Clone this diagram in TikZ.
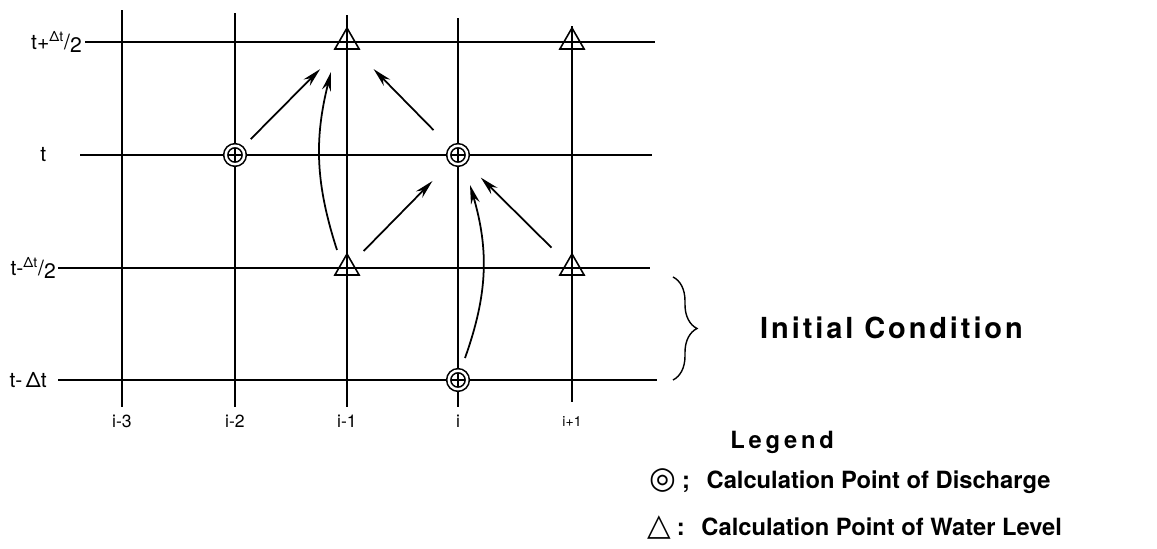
\documentclass[tikz,border=0pt]{standalone}
\usepackage{fontspec}
\setsansfont{TeX Gyre Heros}
\newfontfamily\symfont{DejaVu Sans}
\usetikzlibrary{arrows.meta,calc,shapes.geometric,decorations.pathreplacing}

\begin{document}
\begin{tikzpicture}[
    font=\sffamily,
    grid/.style={line width=0.6pt},
    qpt/.style={
        circle,
        draw,
        double,
        double distance=1.4pt,
        line width=0.9pt,
        minimum size=3.7mm,
        inner sep=0pt
    },
    hpt/.style={
        regular polygon,
        regular polygon sides=3,
        draw,
        line width=0.9pt,
        minimum size=5.6mm,
        inner sep=0pt
    },
    arr/.style={-{Stealth[length=3.8mm,width=1.8mm]}, line width=1pt},
    tlab/.style={anchor=east, font=\sffamily\fontsize{12}{14}\selectfont},
    ilab/.style={font=\sffamily\fontsize{10}{12}\selectfont},
    leg/.style={anchor=base west, inner sep=0pt, font=\sffamily\bfseries\fontsize{13.5}{16}\selectfont}
]
\useasboundingbox (0,0) rectangle (23.14,10.98);

% time levels
\draw[grid] (1.70,10.14) -- (13.10,10.14);
\draw[grid] (1.60,7.88) -- (13.04,7.88);
\draw[grid] (1.16,5.62) -- (13.00,5.62);
\draw[grid] (1.16,3.38) -- (13.14,3.38);

% space points
\foreach \x/\top in {2.44/10.78, 4.70/10.72, 6.94/10.68, 9.16/10.62}
    \draw[grid] (\x,2.84) -- (\x,\top);

\node[tlab] (tp) at (1.76,10.14) {t+\textsuperscript{Δt}/\raisebox{-1.5pt}{2}};
\node[tlab] (t0) at (1.05,7.88) {t};
\node[tlab] (tm) at (1.24,5.62) {t-\textsuperscript{Δt}/\raisebox{-1.5pt}{2}};
\node[tlab] (tmm) at (1.06,3.38) {t-\,Δt};

\node[ilab] (im3) at (2.44,2.56) {i-3};
\node[ilab] (im2) at (4.70,2.56) {i-2};
\node[ilab] (im1) at (6.94,2.56) {i-1};
\node[ilab] (i0) at (9.16,2.56) {i};
\node[ilab, font=\sffamily\fontsize{8}{10}\selectfont] (ip1) at (11.44,2.54) {i+1};

% calculation points
\node[qpt] (qa) at (4.70,7.88) {};
\node[qpt] (qb) at (9.16,7.88) {};
\node[qpt] (qc) at (9.16,3.38) {};
\node[hpt] (ha) at (6.94,10.14) {};
\node[hpt] (hb) at (11.44,10.14) {};
\node[hpt] (hc) at (6.94,5.62) {};
\node[hpt] (hd) at (11.44,5.62) {};

\coordinate (ipb) at (11.44,2.94);
\draw[grid] (ipb) -- (hb.north);

\draw[arr] ($(qa)!0.14!(ha)$) -- ($(qa)!0.76!(ha)$);
\draw[arr] ($(qb)!0.22!(ha)$) -- ($(qb)!0.76!(ha)$);
\draw[arr] ($(hc)!0.15!(qb)$) -- ($(hc)!0.77!(qb)$);
\draw[arr] ($(hd)!0.18!(qb)$) -- ($(hd)!0.80!(qb)$);
\draw[arr] ($(hc)+(-0.20,0.36)$) to[bend left=16] ($(ha)+(-0.32,-0.60)$);
\draw[arr] ($(qc)+(0.14,0.44)$) to[bend right=18] ($(qb)+(0.24,-0.60)$);

% initial condition
\coordinate (bt) at (13.46,5.44);
\coordinate (bb) at (13.46,3.38);
\draw[line width=0.8pt, decorate, decoration={brace, amplitude=0.48cm}] (bt) -- (bb);
\node[anchor=west, font=\sffamily\bfseries\fontsize{16.5}{19}\selectfont\addfontfeature{LetterSpace=10}] (init) at (15.08,4.42) {Initial Condition};

% legend
\node[leg, font=\sffamily\bfseries\fontsize{13.5}{16}\selectfont\addfontfeature{LetterSpace=16}] (legend) at (14.60,2.01) {Legend};
\node[leg] (legq) at (12.98,1.21) {{\symfont\mdseries\fontsize{17.5}{18}\selectfont ◎}\hspace{0.25em};\hspace{0.7em}Calculation Point of Discharge};
\node[leg] (legh) at (12.94,0.27) {{\symfont\mdseries\fontsize{17.5}{18}\selectfont △}\hspace{0.25em}:\hspace{0.7em}Calculation Point of Water Level};

\end{tikzpicture}
\end{document}
